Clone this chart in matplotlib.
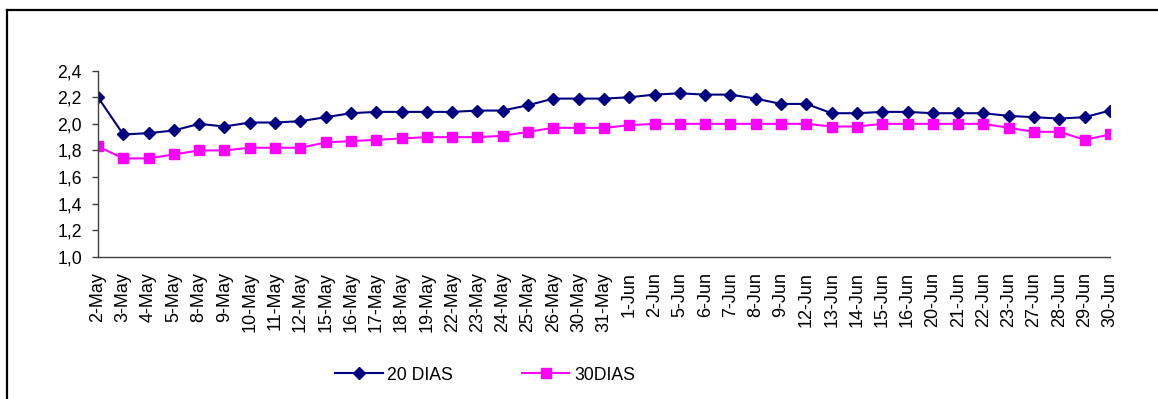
import matplotlib
matplotlib.use("Agg")
import matplotlib.pyplot as plt
from matplotlib.lines import Line2D
from matplotlib.ticker import FuncFormatter, MultipleLocator

plt.rcParams["font.family"] = ["Liberation Sans", "DejaVu Sans"]

# trading days, May-June
dates = [
    "2-May", "3-May", "4-May", "5-May", "8-May", "9-May", "10-May", "11-May",
    "12-May", "15-May", "16-May", "17-May", "18-May", "19-May", "22-May",
    "23-May", "24-May", "25-May", "26-May", "30-May", "31-May",
    "1-Jun", "2-Jun", "5-Jun", "6-Jun", "7-Jun", "8-Jun", "9-Jun", "12-Jun",
    "13-Jun", "14-Jun", "15-Jun", "16-Jun", "20-Jun", "21-Jun", "22-Jun",
    "23-Jun", "27-Jun", "28-Jun", "29-Jun", "30-Jun",
]

dias_20 = [
    2.20, 1.92, 1.93, 1.95, 2.00, 1.98, 2.01, 2.01, 2.02, 2.05, 2.08, 2.09,
    2.09, 2.09, 2.09, 2.10, 2.10, 2.14, 2.19, 2.19, 2.19,
    2.20, 2.22, 2.23, 2.22, 2.22, 2.19, 2.15, 2.15, 2.08, 2.08, 2.09, 2.09,
    2.08, 2.08, 2.08, 2.06, 2.05, 2.04, 2.05, 2.10,
]

dias_30 = [
    1.83, 1.74, 1.74, 1.77, 1.80, 1.80, 1.82, 1.82, 1.82, 1.86, 1.87, 1.88,
    1.89, 1.90, 1.90, 1.90, 1.91, 1.94, 1.97, 1.97, 1.97,
    1.99, 2.00, 2.00, 2.00, 2.00, 2.00, 2.00, 2.00, 1.98, 1.98, 2.00, 2.00,
    2.00, 2.00, 2.00, 1.97, 1.94, 1.94, 1.88, 1.92,
]

fig = plt.figure(figsize=(11.58, 3.99), dpi=100)
ax = fig.add_axes([0.0846, 0.3566, 0.8739, 0.4662])

x = list(range(len(dates)))
ax.plot(x, dias_20, color="#000080", lw=1.5, marker="D", markersize=5.8,
        label="20 DIAS")
ax.plot(x, dias_30, color="#FF00FF", lw=1.5, marker="s", markersize=6.8,
        label="30DIAS")

ax.set_xlim(0, len(dates) - 1)
ax.set_ylim(1.0, 2.4)
ax.yaxis.set_major_locator(MultipleLocator(0.2))
ax.yaxis.set_major_formatter(FuncFormatter(lambda v, p: f"{v:.1f}".replace(".", ",")))
ax.set_xticks(x)
ax.set_xticklabels(dates, rotation=90)

for side in ["top", "right"]:
    ax.spines[side].set_visible(False)
for side in ["left", "bottom"]:
    ax.spines[side].set_color("#404040")
    ax.spines[side].set_linewidth(1.0)

ax.tick_params(axis="y", length=4, width=1, color="#404040", pad=7.5,
               labelsize=12.7)
ax.tick_params(axis="x", length=0, pad=11, labelsize=13)
for lbl in ax.get_xticklabels():
    lbl.set_verticalalignment("top")

fig.legend(loc="center", bbox_to_anchor=(485 / 1158, 1 - 375 / 399), ncol=2,
           frameon=False, fontsize=12.7, handlelength=2.7, handletextpad=0.25,
           columnspacing=3.9)

# outer chart border (top and left edges)
fig.add_artist(Line2D([6.5 / 1158, 1.0], [1 - 10 / 399, 1 - 10 / 399],
                      transform=fig.transFigure, color="black", lw=1.6))
fig.add_artist(Line2D([6.5 / 1158, 6.5 / 1158], [1 - 10 / 399, 0.0],
                      transform=fig.transFigure, color="black", lw=1.6))

fig.savefig("out.png", dpi=100)
